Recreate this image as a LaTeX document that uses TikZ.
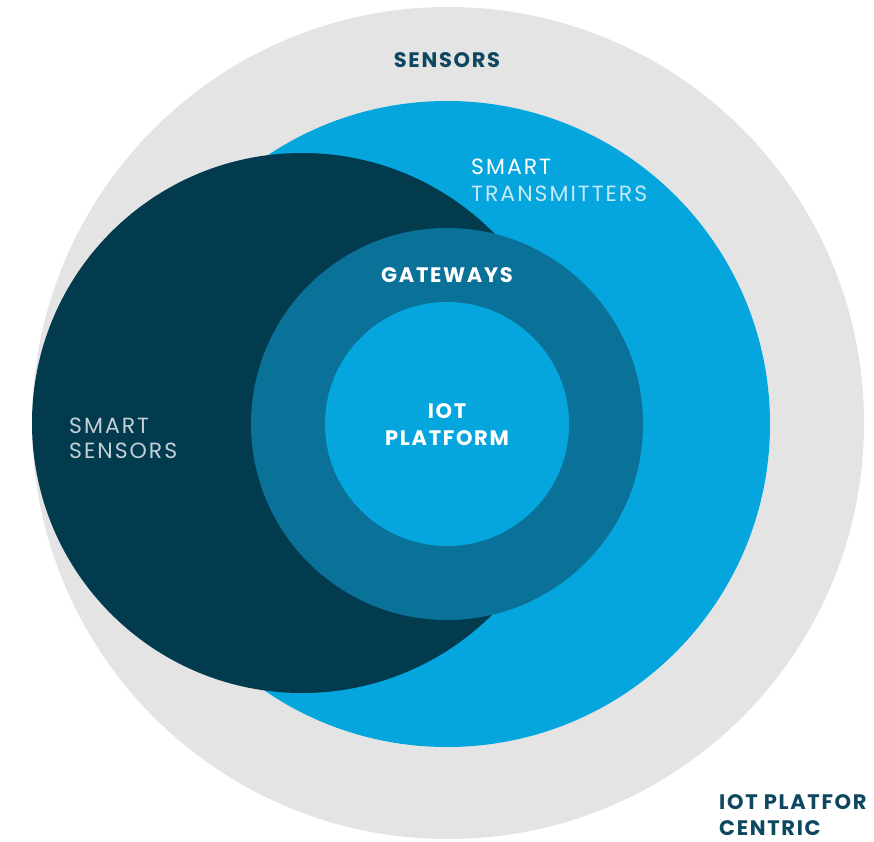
\documentclass[tikz,border=0pt]{standalone}
\usepackage{fontspec}
\setmainfont{Poppins}
\begin{document}
\begin{tikzpicture}[x=1pt,y=-1pt,
  lbl/.style={inner sep=0pt,font=\fontsize{22}{26}\selectfont\addfontfeature{LetterSpace=9}},
  boldlbl/.style={inner sep=0pt,font=\fontsize{21}{26}\selectfont\bfseries\addfontfeature{LetterSpace=8}}]
\definecolor{greyc}{HTML}{E4E4E4}
\definecolor{bluec}{HTML}{05A5DE}
\definecolor{darkc}{HTML}{023A4E}
\definecolor{gatec}{HTML}{0A7199}
\definecolor{tealtxt}{HTML}{0D4760}
\definecolor{paletxt}{HTML}{C3D0D5}
\definecolor{ltblue}{HTML}{C4EAF8}
\useasboundingbox (0,0) rectangle (874,841);
\fill[white] (0,0) rectangle (874,841);
\fill[greyc] (448,423) circle (416);
\fill[bluec] (447,424) circle (323);
\fill[darkc] (302,423) circle (270);
\fill[gatec] (447,424) circle (196);
\fill[bluec] (447,424) circle (122);
\node[boldlbl,text=tealtxt,anchor=base] (sensors) at (447,67) {SENSORS};
\node[lbl,text=white,anchor=base west] (smartt) at (471,174) {SMART};
\node[lbl,text=ltblue,anchor=base west] (transm) at (471,201) {TRANSMITTERS};
\node[boldlbl,text=white,anchor=base] (gateways) at (447,282) {GATEWAYS};
\node[boldlbl,text=white,anchor=base] (iot) at (447,418) {IOT};
\node[boldlbl,text=white,anchor=base] (platform) at (447,445) {PLATFORM};
\node[lbl,text=paletxt,anchor=base west] (smarts) at (69,433) {SMART};
\node[lbl,text=paletxt,anchor=base west] (ssensors) at (69,458) {SENSORS};
\node[boldlbl,text=tealtxt,anchor=base west] (iotpc) at (719,809) {IOT PLATFOR};
\node[boldlbl,text=tealtxt,anchor=base west] (centric) at (719,835) {CENTRIC};
\end{tikzpicture}
\end{document}
